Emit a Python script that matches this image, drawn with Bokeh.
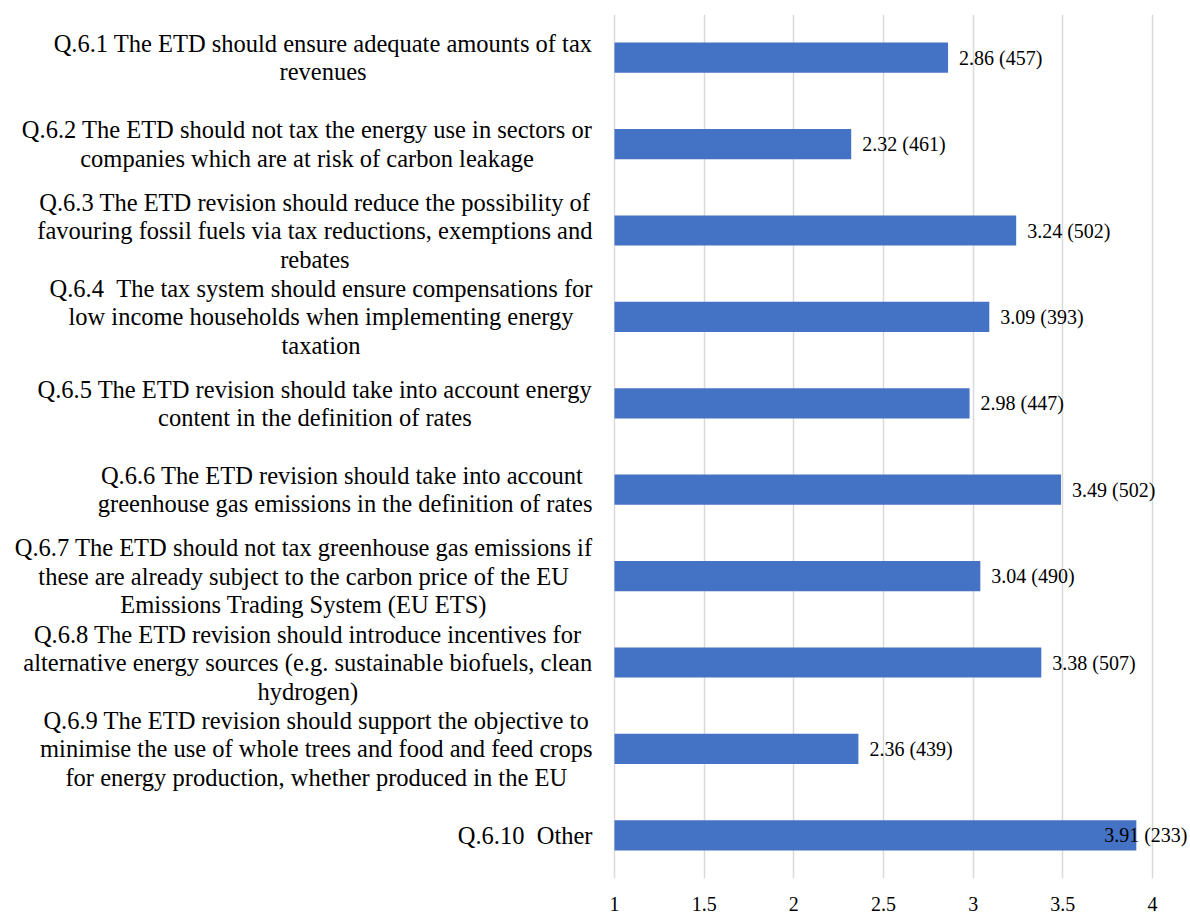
from bokeh.plotting import figure
from bokeh.models import ColumnDataSource, FactorRange, Range1d, FixedTicker, NumeralTickFormatter
from bokeh.core.properties import value
from bokeh.embed import file_html
from bokeh.resources import INLINE

categories = ["Q.6.1", "Q.6.2", "Q.6.3", "Q.6.4", "Q.6.5",
              "Q.6.6", "Q.6.7", "Q.6.8", "Q.6.9", "Q.6.10"]
labels = [
    "Q.6.1 The ETD should ensure adequate amounts of tax\nrevenues",
    "Q.6.2 The ETD should not tax the energy use in sectors or\ncompanies which are at risk of carbon leakage",
    "Q.6.3 The ETD revision should reduce the possibility of\nfavouring fossil fuels via tax reductions, exemptions and\nrebates",
    "Q.6.4  The tax system should ensure compensations for\nlow income households when implementing energy\ntaxation",
    "Q.6.5 The ETD revision should take into account energy\ncontent in the definition of rates",
    "Q.6.6 The ETD revision should take into account \ngreenhouse gas emissions in the definition of rates",
    "Q.6.7 The ETD should not tax greenhouse gas emissions if\nthese are already subject to the carbon price of the EU\nEmissions Trading System (EU ETS)",
    "Q.6.8 The ETD revision should introduce incentives for\nalternative energy sources (e.g. sustainable biofuels, clean\nhydrogen)",
    "Q.6.9 The ETD revision should support the objective to\nminimise the use of whole trees and food and feed crops\nfor energy production, whether produced in the EU",
    "Q.6.10  Other",
]
scores = [2.86, 2.32, 3.24, 3.09, 2.98, 3.49, 3.04, 3.38, 2.36, 3.91]
counts = [457, 461, 502, 393, 447, 502, 490, 507, 439, 233]
x_ticks = [1, 1.5, 2, 2.5, 3, 3.5, 4]

X_START, X_END = -2.424, 4.212
FONT = value("Liberation Serif")
LABEL_PX = 24.5
LINE_PX = 28.5
GAP_PX = 22

# Advance widths (1/1000 em) of Liberation Serif (Times-metric compatible),
# used only to centre each wrapped label block against the axis.
_W = {" ": 250, "\u00a0": 250, "(": 333, ")": 333, ",": 250, ".": 250, "-": 333,
      "A": 722, "B": 667, "C": 667, "D": 722, "E": 611, "F": 556, "G": 722,
      "H": 722, "I": 333, "J": 389, "K": 722, "L": 611, "M": 889, "N": 722,
      "O": 722, "P": 556, "Q": 722, "R": 667, "S": 556, "T": 611, "U": 722,
      "V": 722, "W": 944, "X": 722, "Y": 722, "Z": 611,
      "a": 444, "b": 500, "c": 444, "d": 500, "e": 444, "f": 333, "g": 500,
      "h": 500, "i": 278, "j": 278, "k": 500, "l": 278, "m": 778, "n": 500,
      "o": 500, "p": 500, "q": 500, "r": 333, "s": 389, "t": 278, "u": 500,
      "v": 500, "w": 722, "x": 500, "y": 500, "z": 444}


def text_width(s, size):
    return sum(_W.get(ch, 500) for ch in s) * size / 1000.0


p = figure(width=1190, height=913, output_backend="svg", toolbar_location=None,
           y_range=FactorRange(factors=categories[::-1]),
           x_range=Range1d(X_START, X_END),
           min_border_left=0, min_border_right=0, min_border_top=14, min_border_bottom=32)

p.hbar(y=categories, left=1, right=scores, height=0.35,
       fill_color="#4472C4", line_color=None)

# category labels: one text per line, each line centred inside its block,
# block right-aligned next to the axis start
line_cat, line_txt, line_dx, line_dy = [], [], [], []
for cat, lab in zip(categories, labels):
    lines = [l.replace("  ", " \u00a0") for l in lab.split("\n")]
    block_w = max(text_width(l.rstrip(), LABEL_PX) for l in lines)
    n = len(lines)
    for k, l in enumerate(lines):
        line_cat.append(cat)
        line_txt.append(l)
        line_dx.append(-GAP_PX - block_w / 2.0)
        line_dy.append((k - (n - 1) / 2.0) * LINE_PX)
src_lab = ColumnDataSource(dict(cat=line_cat, t=line_txt, dx=line_dx, dy=line_dy))
p.text(x=1, y="cat", text="t", source=src_lab, x_offset="dx", y_offset="dy",
       text_align="center", text_baseline="middle",
       text_font=FONT, text_font_size=f"{LABEL_PX}px", text_color="#000000")

# value labels (clamped at the right edge like the original)
vlabels = [f"{s:.2f} ({c})" for s, c in zip(scores, counts)]
fits = [s < 3.7 for s in scores]
src_in = ColumnDataSource(dict(
    x=[s for s, f in zip(scores, fits) if f],
    cat=[c for c, f in zip(categories, fits) if f],
    t=[v for v, f in zip(vlabels, fits) if f]))
src_out = ColumnDataSource(dict(
    x=[X_END for f in fits if not f],
    cat=[c for c, f in zip(categories, fits) if not f],
    t=[v for v, f in zip(vlabels, fits) if not f]))
p.text(x="x", y="cat", text="t", source=src_in, x_offset=11, text_align="left",
       text_baseline="middle", text_font=FONT, text_font_size="20px", text_color="#000000")
p.text(x="x", y="cat", text="t", source=src_out, x_offset=-3, text_align="right",
       text_baseline="middle", text_font=FONT, text_font_size="20px", text_color="#000000")

p.yaxis.visible = False
p.ygrid.grid_line_color = None
p.xaxis.ticker = FixedTicker(ticks=x_ticks)
p.xaxis.formatter = NumeralTickFormatter(format="0.[0]")
p.xaxis.axis_line_color = None
p.xaxis.major_tick_line_color = None
p.xaxis.minor_tick_line_color = None
p.xaxis.major_label_standoff = 12
p.xaxis.major_label_text_font = "Liberation Serif"
p.xaxis.major_label_text_font_size = "20px"
p.xaxis.major_label_text_color = "#000000"
p.xgrid.ticker = FixedTicker(ticks=x_ticks)
p.xgrid.grid_line_color = "#D9D9D9"
p.xgrid.grid_line_width = 1.5
p.outline_line_color = None
p.background_fill_color = "white"
p.border_fill_color = "white"

open("out.html", "w").write(file_html(p, INLINE))
